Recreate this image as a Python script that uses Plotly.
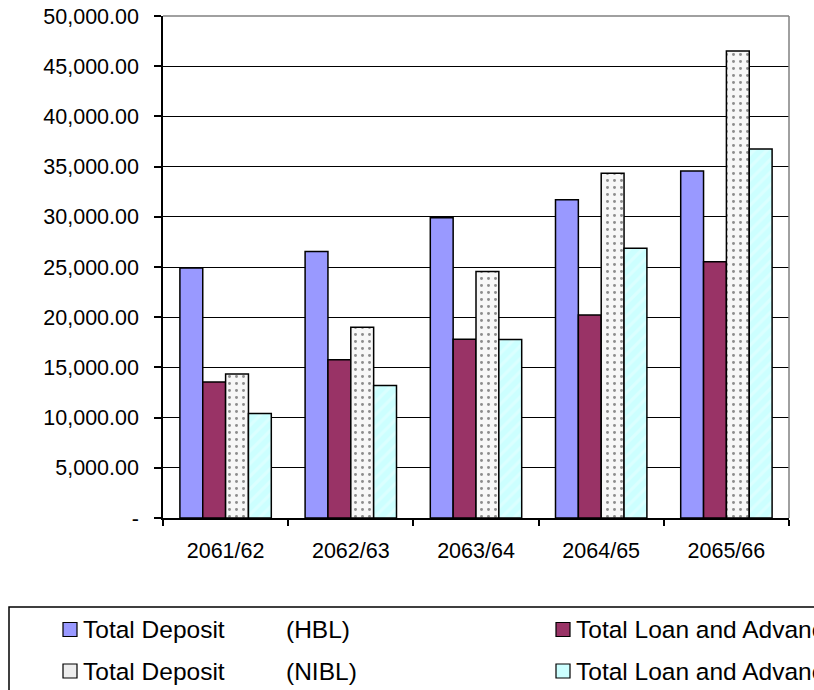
import plotly.graph_objects as go

# ---------------- data ----------------
categories = ["2061/62", "2062/63", "2063/64", "2064/65", "2065/66"]
hbl_deposit = [24900, 26550, 29900, 31700, 34550]
hbl_loan = [13550, 15750, 17800, 20230, 25520]
nibl_deposit = [14340, 19000, 24540, 34330, 46520]
nibl_loan = [10400, 13200, 17780, 26870, 36750]

y_tickvals = [0, 5000, 10000, 15000, 20000, 25000, 30000, 35000, 40000, 45000, 50000]
y_ticktext = ["-", "5,000.00", "10,000.00", "15,000.00", "20,000.00", "25,000.00",
              "30,000.00", "35,000.00", "40,000.00", "45,000.00", "50,000.00"]

legend_left = [("Total Deposit", "(HBL)"), ("Total Deposit", "(NIBL)")]
legend_right = ["Total Loan and Advances (HBL)", "Total Loan and Advances (NIBL)"]

# ---------------- styles ----------------
W, H = 814, 690
FONT = "Liberation Sans, Arial, sans-serif"
FS = 21.5
LFS = 24.5
C_HBL_DEP = "#9999FF"
C_HBL_LOAN = "#993366"
C_NIBL_LOAN = "#CCFFFF"


def px(x):
    return x / W


def py(y):
    return (H - y) / H


line = dict(color="black", width=1.5)

fig = go.Figure()
fig.add_trace(go.Bar(x=categories, y=hbl_deposit, name="Total Deposit (HBL)",
                     marker=dict(color=C_HBL_DEP, line=line)))
fig.add_trace(go.Bar(x=categories, y=hbl_loan, name="Total Loan and Advances (HBL)",
                     marker=dict(color=C_HBL_LOAN, line=line)))
fig.add_trace(go.Bar(x=categories, y=nibl_deposit, name="Total Deposit (NIBL)",
                     marker=dict(color="#F7F7F7", line=line,
                                 pattern=dict(shape=".", fgcolor="#222222", bgcolor="#F7F7F7",
                                              size=7, solidity=0.14))))
fig.add_trace(go.Bar(x=categories, y=nibl_loan, name="Total Loan and Advances (NIBL)",
                     marker=dict(color=C_NIBL_LOAN, line=line,
                                 pattern=dict(shape="/", fgcolor="#EAFFFF", bgcolor=C_NIBL_LOAN,
                                              size=9, solidity=0.35))))

x0d, x1d = px(163), px(789)
y0d, y1d = py(518), py(16)

fig.update_layout(
    width=W, height=H,
    margin=dict(l=0, r=0, t=0, b=0, autoexpand=False),
    paper_bgcolor="white", plot_bgcolor="white",
    barmode="group", bargap=0.27, bargroupgap=0,
    showlegend=False,
    font=dict(family=FONT, size=FS, color="black"),
    xaxis=dict(domain=[x0d, x1d], type="category", automargin=False, showline=True,
               linecolor="black", linewidth=1.5, ticks="outside", tickson="boundaries",
               ticklen=6, tickcolor="black", tickwidth=1.5, showgrid=False,
               tickfont=dict(family=FONT, size=FS), ticklabelstandoff=12),
    yaxis=dict(domain=[y0d, y1d], range=[0, 50000], tickvals=y_tickvals, ticktext=y_ticktext,
               automargin=False, showline=True, linecolor="black", linewidth=1.5,
               ticks="outside", ticklen=7, tickcolor="black", tickwidth=1.5,
               showgrid=True, gridcolor="black", gridwidth=1.4, zeroline=False,
               tickfont=dict(family=FONT, size=FS), ticklabelstandoff=11),
)

shapes = []
# gray top and right plot border
shapes.append(dict(type="line", xref="paper", yref="paper", x0=x0d, x1=x1d, y0=y1d, y1=y1d,
                   line=dict(color="#808080", width=1.5), layer="above"))
shapes.append(dict(type="line", xref="paper", yref="paper", x0=x1d, x1=x1d, y0=y0d, y1=y1d,
                   line=dict(color="#808080", width=1.5), layer="above"))
# legend box (extends beyond the right/bottom edge, as in the reference)
shapes.append(dict(type="rect", xref="paper", yref="paper", x0=px(9), x1=px(840), y0=py(607), y1=py(720),
                   line=dict(color="black", width=1.5), fillcolor="rgba(0,0,0,0)"))

rows = [629.5, 671]
sw_left = [63, 556]
sw_fill = [[C_HBL_DEP, C_HBL_LOAN], ["#EDEDED", C_NIBL_LOAN]]
for r, yc in enumerate(rows):
    for c, xl in enumerate(sw_left):
        shapes.append(dict(type="rect", xref="paper", yref="paper",
                           x0=px(xl), x1=px(xl + 14), y0=py(yc + 7), y1=py(yc - 7),
                           line=dict(color="black", width=1.2), fillcolor=sw_fill[r][c]))
fig.update_layout(shapes=shapes)

annotations = []
for r, yc in enumerate(rows):
    a, b = legend_left[r]
    annotations.append(dict(text=a, xref="paper", yref="paper", x=px(81), y=py(yc),
                            xanchor="left", yanchor="middle", showarrow=False,
                            font=dict(family=FONT, size=LFS, color="black")))
    annotations.append(dict(text=b, xref="paper", yref="paper", x=px(284), y=py(yc),
                            xanchor="left", yanchor="middle", showarrow=False,
                            font=dict(family=FONT, size=LFS, color="black")))
    annotations.append(dict(text=legend_right[r], xref="paper", yref="paper", x=px(574), y=py(yc),
                            xanchor="left", yanchor="middle", showarrow=False,
                            font=dict(family=FONT, size=LFS, color="black")))
fig.update_layout(annotations=annotations)

fig.write_html("out.html")
